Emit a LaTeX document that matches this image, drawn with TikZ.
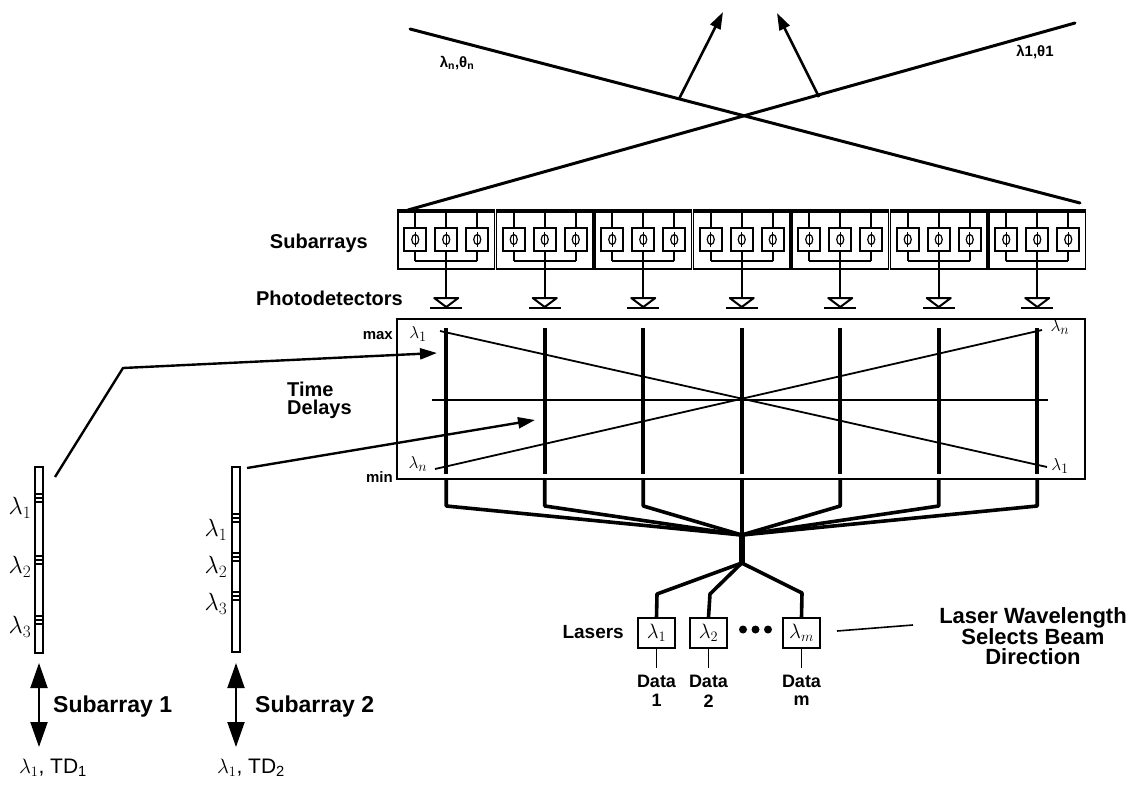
\documentclass[tikz,border=0pt]{standalone}
\usepackage{fontspec}
\setmainfont{Liberation Sans}
\usetikzlibrary{arrows.meta}
\begin{document}
\begin{tikzpicture}[x=1pt,y=-1pt,
  lbl/.style={font=\fontsize{20}{22}\selectfont\bfseries, inner sep=0pt},
  small/.style={font=\fontsize{15}{16}\selectfont\bfseries, inner sep=0pt},
  big/.style={font=\fontsize{22}{20}\selectfont\bfseries, inner sep=0pt, align=center},
  lam/.style={font=\fontsize{19}{19}\selectfont, inner sep=0pt},
  flam/.style={font=\fontsize{23}{23}\selectfont, inner sep=0pt},
  beam/.style={line width=3pt},
  thin/.style={line width=1.6pt},
  fat/.style={line width=3.6pt},
  bigtip/.style={-{Triangle[length=17pt,width=11pt]}},
  laser/.style={draw, line width=1.5pt, minimum width=37pt, minimum height=30pt, inner sep=0pt, font=\fontsize{21}{21}\selectfont},
  fiber/.style={draw, line width=1.5pt, minimum width=8pt, inner sep=0pt}
]
\useasboundingbox (0,0) rectangle (1146,785);

% ---------- radiated beams ----------
\coordinate (An) at (410,29);
\coordinate (Ae) at (1080,203);
\coordinate (Bs) at (408,210);
\coordinate (Be) at (1075,23);
\draw[beam, line cap=round] (An) -- (Ae);
\draw[beam, line cap=round] (Bs) -- (Be);
\coordinate (r1s) at (679,99);  \coordinate (r1e) at (723,12);
\coordinate (r2s) at (819,97);  \coordinate (r2e) at (777,13);
\draw[line width=2.6pt, bigtip] (r1s) -- (r1e);
\draw[line width=2.6pt, bigtip] (r2s) -- (r2e);
\node[small] (bn) at (457,63) {λ\textsubscript{n},θ\textsubscript{n}};
\node[small] (b1) at (1035,52) {λ1,θ1};

% ---------- subarrays and photodetectors ----------
\foreach \i in {0,...,6} {
  \pgfmathsetmacro\L{397+98.5*\i}
  \pgfmathsetmacro\c{\L+49.25}
  \draw[thin] (\L+1,210) rectangle (\L+97.5,269);
  \draw[line width=3pt] (\L+1,211) -- (\L+97.5,211);
  \foreach \d in {-31,0,31} {
    \draw[thin] (\c+\d-11,228) rectangle (\c+\d+11,251);
    \draw[thin] (\c+\d,211) -- (\c+\d,228);
    \draw[thin] (\c+\d,251) -- (\c+\d,261);
    \draw[line width=1.2pt] (\c+\d,239.5) ellipse [x radius=3.5pt, y radius=5pt];
    \draw[line width=1.2pt] (\c+\d,232) -- (\c+\d,247);
  }
  \draw[thin] (\c-31,261) -- (\c+31,261);
  \draw[thin] (\c,261) -- (\c,298);
  \draw[line width=2pt, line join=round] (\c-12,298) -- (\c+12,298) -- (\c,307) -- cycle;
  \draw[line width=2.2pt] (\c-16,308) -- (\c+16,308);
}
\node[lbl, anchor=east] (sublbl) at (368,243) {Subarrays};
\node[lbl, anchor=east] (pdlbl) at (403,298) {Photodetectors};

% ---------- time delay block ----------
\draw[line width=1.5pt] (397,319) rectangle (1085,479);
\coordinate (conv) at (741.75,535);
\coordinate (split) at (741.75,563);
\foreach \i in {0,...,6} {
  \pgfmathsetmacro\c{397+98.5*\i+49.25}
  \draw[fat] (\c,328) -- (\c,474);
  \ifnum\i=3
    \draw[fat] (\c,479) -- (conv);
  \else
    \draw[fat, line join=round] (\c,479) -- (\c,506) -- (conv);
  \fi
}
\draw[line width=1.8pt] (432,400) -- (1048,400);
\draw[line width=1.8pt] (440,331) -- (1047,467);
\draw[line width=1.8pt] (435,469) -- (1042,330);
\node[lam] (l1a) at (418,334) {$\lambda_1$};
\node[lam] (lna) at (418,464) {$\lambda_n$};
\node[lam] (lnb) at (1060,327) {$\lambda_n$};
\node[lam] (l1b) at (1060,466) {$\lambda_1$};
\node[small, anchor=east] (max) at (393,336) {max};
\node[small, anchor=east] (min) at (393,477) {min};
\node[lbl, anchor=west, align=left, font=\fontsize{20}{18}\selectfont\bfseries] (tdlbl) at (287,400) {Time\\Delays};

% ---------- combiner and lasers ----------
\draw[line width=6pt] (conv) -- (split);
\node[laser] (L1) at (656.5,633) {$\lambda_1$};
\node[laser] (L2) at (708.5,633) {$\lambda_2$};
\node[laser] (Lm) at (801.5,633) {$\lambda_m$};
\draw[fat, line join=round] (split) -- (657,594) -- (L1.north);
\draw[fat, line join=round] (split) -- (710,594) -- (L2.north);
\draw[fat, line join=round] (split) -- (802,593) -- (Lm.north);
\foreach \x in {743,755.5,768} \fill (\x,629.5) circle (4pt);
\node[lbl, anchor=east, font=\fontsize{19}{20}\selectfont\bfseries] (lasers) at (624,632) {Lasers};
\foreach \n/\t in {L1/1,L2/2,Lm/m} {
  \draw[thin] (\n.south) -- ++(0,19) coordinate (\n d);
  \node[lbl, font=\fontsize{18}{18}\selectfont\bfseries] (D\n) at ([yshift=-14pt]\n d) {Data};
  \node[lbl, font=\fontsize{18}{18}\selectfont\bfseries] (E\n) at ([yshift=-33pt]\n d) {\t};
}
\node[big] (sel) at (1033,636) {Laser Wavelength\\Selects Beam\\Direction};
\coordinate (selA) at (837,631);
\draw[line width=1.6pt] (selA) -- (913,625);

% ---------- fibre gratings ----------
\node[fiber, minimum height=186pt] (f1) at (39,560) {};
\node[fiber, minimum height=185pt] (f2) at (236,559.5) {};
\foreach \g in {498,560,620} {
  \foreach \k in {-4,0,4} \draw[line width=1.6pt] (35,\g+\k) -- (43,\g+\k);
}
\foreach \g in {518,557,596} {
  \foreach \k in {-4,0,4} \draw[line width=1.6pt] (232,\g+\k) -- (240,\g+\k);
}
\node[flam] (f1l1) at (20,508) {$\lambda_1$};
\node[flam] (f1l2) at (20,567) {$\lambda_2$};
\node[flam] (f1l3) at (20,627) {$\lambda_3$};
\node[flam] (f2l1) at (216,530) {$\lambda_1$};
\node[flam] (f2l2) at (216,567) {$\lambda_2$};
\node[flam] (f2l3) at (216,604) {$\lambda_3$};

% connections fibres -> delay lines
\coordinate (c1s) at (55,477);
\coordinate (c1b) at (123,368);
\coordinate (c1e) at (437,353);
\coordinate (c2s) at (247,468);
\coordinate (c2e) at (535,420);
\draw[line width=2.4pt, line join=round, bigtip] (c1s) -- (c1b) -- (c1e);
\draw[line width=2.4pt, bigtip] (c2s) -- (c2e);

% double arrows
\coordinate (d1a) at (39,663); \coordinate (d1b) at (39,747);
\coordinate (d2a) at (236,663); \coordinate (d2b) at (236,747);
\draw[line width=2pt, {Triangle[length=25pt,width=17pt]}-{Triangle[length=25pt,width=17pt]}] (d1a) -- (d1b);
\draw[line width=2pt, {Triangle[length=25pt,width=17pt]}-{Triangle[length=25pt,width=17pt]}] (d2a) -- (d2b);
\node[lbl, anchor=west, font=\fontsize{23}{24}\selectfont\bfseries] (sa1) at (53,707) {Subarray 1};
\node[lbl, anchor=west, font=\fontsize{23}{24}\selectfont\bfseries] (sa2) at (255,707) {Subarray 2};
\node[lam, font=\fontsize{21}{21}\selectfont] (td1) at (53,768) {$\lambda_1$, TD\textsubscript{1}};
\node[lam, font=\fontsize{21}{21}\selectfont] (td2) at (251,768) {$\lambda_1$, TD\textsubscript{2}};
\end{tikzpicture}
\end{document}
